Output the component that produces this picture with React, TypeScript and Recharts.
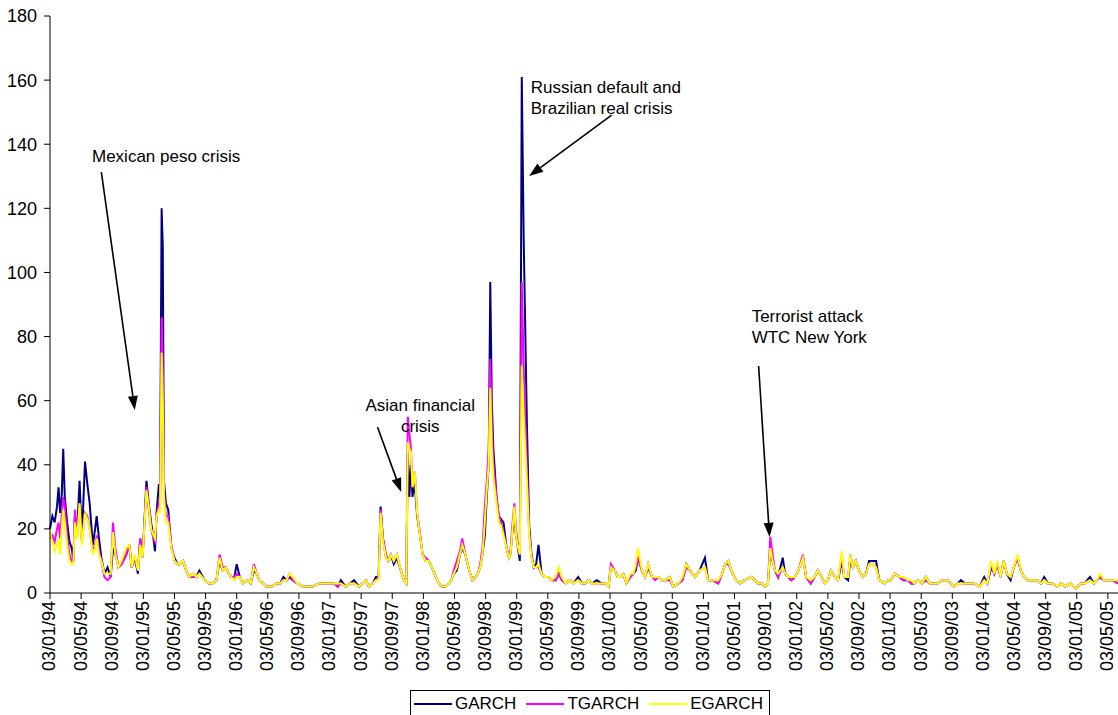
import React from "react";
import { LineChart, Line, XAxis, YAxis, Legend, ReferenceLine, ReferenceDot } from "recharts";

const FONT = "'Liberation Sans', Arial, sans-serif";

// x = months since 03/01/94
const months = [
  // 1994-95
  0, 0.3, 0.6, 0.9, 1.1, 1.3, 1.5, 1.7, 1.9, 2.2,
  2.5, 2.8, 3.0, 3.2, 3.5, 3.8, 4.1, 4.5, 4.8, 5.1,
  5.5, 5.8, 6.0, 6.3, 6.6, 7.0, 7.4, 7.8, 8.1, 8.4,
  8.8, 9.2, 9.8, 10.2, 10.5, 10.9, 11.3, 11.6, 11.9, 12.4,
  12.7, 13.0, 13.3, 13.5, 13.7, 14.0, 14.15, 14.35, 14.5, 14.65,
  14.9, 15.2, 15.6, 16.0, 16.4, 16.7, 17.1, 17.5, 17.9, 18.4,
  18.8, 19.2, 19.9, 20.4, 20.9, 21.4, 21.8, 22.2, 22.6, 23.0,
  23.3, 23.7,
  // 1996-97
  24.0, 24.4, 24.8, 25.4, 25.8, 26.2, 26.6, 26.9, 27.4, 27.8,
  28.5, 29.1, 29.6, 30.0, 30.4, 30.8, 31.2, 31.8, 32.5, 33.2,
  33.8, 34.6, 35.5, 36.5, 37.0, 37.4, 38.0, 38.6, 39.1, 39.7,
  40.2, 40.6, 41.0, 41.5, 41.9, 42.25, 42.5, 42.8, 43.2, 43.5,
  43.8, 44.2, 44.6, 45.1, 45.5, 45.8, 46.0, 46.2, 46.4, 46.6,
  46.9, 47.2, 47.5, 47.9,
  // 1998-99
  48.3, 48.7, 49.1, 49.6, 50.0, 50.4, 50.8, 51.3, 51.6, 51.9,
  52.3, 52.7, 53.0, 53.4, 53.7, 53.9, 54.3, 54.7, 55.0, 55.3,
  55.6, 55.9, 56.15, 56.4, 56.6, 56.8, 57.0, 57.4, 57.7, 58.0,
  58.3, 58.7, 59.0, 59.2, 59.4, 59.7, 59.9, 60.1, 60.4, 60.65,
  60.9, 61.3, 61.6, 61.9, 62.2, 62.5, 62.8, 63.2, 63.6, 64.0,
  64.5, 65.0, 65.4, 65.8, 66.3, 66.8, 67.3, 67.9, 68.4, 68.8,
  69.2, 69.7, 70.3, 70.9, 71.4, 71.8, 72.1,
  // 2000-01
  72.6, 73.0, 73.3, 73.7, 74.1, 74.6, 75.0, 75.3, 75.6, 76.1,
  76.5, 76.9, 77.4, 77.8, 78.2, 78.6, 79.1, 79.7, 80.1, 80.8,
  81.3, 81.8, 82.3, 82.9, 83.5, 84.2, 84.6, 85.2, 85.9, 86.4,
  86.8, 87.2, 87.6, 88.2, 88.7, 89.3, 90.2, 91.0, 91.5, 91.9,
  92.3, 92.6, 92.9, 93.2, 93.6, 94.2, 94.5, 94.9, 95.3, 95.8,
  96.2,
  // 2002-03
  96.8, 97.2, 97.8, 98.3, 98.7, 99.2, 99.6, 100.0, 100.4, 100.9,
  101.3, 101.8, 102.1, 102.6, 102.9, 103.2, 103.6, 104.0, 104.5, 104.9,
  105.3, 105.8, 106.2, 106.6, 107.3, 107.7, 108.1, 108.6, 109.2, 109.7,
  110.3, 110.7, 111.1, 111.6, 112.1, 112.6, 113.1, 113.6, 114.1, 114.7,
  115.4, 115.8, 116.2, 116.7, 117.1, 117.6, 118.2, 118.8, 119.5, 120.1,
  // 2004-05
  120.5, 121.0, 121.4, 121.8, 122.2, 122.6, 123.0, 123.5, 123.9, 124.4,
  124.8, 125.2, 125.7, 126.3, 126.9, 127.4, 127.8, 128.3, 128.8, 129.5,
  130.0, 130.5, 131.2, 131.6, 132.0, 132.5, 133.0, 133.7, 134.2, 134.6,
  135.0, 135.5, 136.1, 136.6, 137.3,
];

const garch = [
  20, 24, 22, 27, 33, 25, 30, 45, 30, 22,
  16, 14, 10, 24, 20, 35, 17, 41, 34, 28,
  15, 20, 24, 17, 11, 6, 8, 5, 14, 12,
  8, 9, 12, 15, 8, 11, 6, 17, 11, 35,
  28, 22, 17, 13, 25, 34, 32, 120, 108, 35,
  28, 26, 14, 11, 9, 9, 10, 7, 5, 6,
  5, 7, 4, 3, 3, 4, 10, 7, 8, 6,
  5, 5,
  9, 5, 3, 4, 3, 7, 6, 4, 3, 2,
  2, 3, 3, 5, 4, 5, 4, 3, 2, 2,
  2, 3, 3, 3, 2, 4, 2, 3, 4, 2,
  3, 4, 2, 3, 5, 5, 27, 17, 11, 10,
  12, 9, 11, 7, 4, 3, 44, 30, 40, 30,
  34, 24, 19, 12,
  10, 10, 8, 5, 3, 2, 2, 3, 4, 6,
  7, 12, 14, 12, 9, 7, 4, 5, 6, 8,
  12, 18, 30, 40, 97, 59, 45, 30, 24, 23,
  22, 14, 11, 12, 18, 24, 18, 15, 10, 161,
  110, 54, 21, 12, 8, 9, 15, 6, 5, 5,
  4, 4, 6, 4, 3, 4, 3, 5, 3, 3,
  4, 3, 4, 3, 3, 2, 8,
  7, 5, 5, 6, 3, 5, 6, 7, 11, 7,
  5, 8, 5, 5, 5, 4, 4, 5, 2, 3,
  4, 9, 7, 5, 7, 11, 4, 4, 3, 6,
  9, 10, 7, 4, 3, 4, 5, 3, 3, 2,
  3, 13, 10, 7, 5, 11, 6, 5, 4, 5,
  7,
  11, 5, 3, 5, 7, 5, 3, 4, 7, 5,
  4, 10, 5, 4, 11, 8, 10, 7, 5, 6,
  10, 10, 10, 4, 3, 4, 4, 6, 5, 4,
  4, 3, 3, 4, 3, 5, 3, 3, 3, 4,
  4, 3, 2, 3, 4, 3, 3, 3, 2, 5,
  3, 8, 6, 9, 5, 10, 6, 4, 8, 11,
  7, 5, 4, 4, 4, 3, 5, 3, 3, 2,
  3, 2, 3, 2, 1.5, 3, 3, 5, 3, 4,
  5, 4, 4, 4, 3,
];

const tgarch = [
  17, 18, 16, 20, 22, 17, 24, 30, 27, 18,
  12, 10, 10, 26, 18, 28, 16, 25, 24, 20,
  13, 15, 18, 13, 10, 5, 4, 5, 22, 14,
  8, 9, 12, 15, 8, 11, 7, 17, 11, 33,
  26, 20, 17, 16, 24, 28, 27, 86, 70, 32,
  24, 24, 15, 10, 9, 9, 10, 7, 5, 5,
  5, 6, 4, 3, 3, 4, 12, 8, 8, 6,
  5, 5,
  6, 5, 3, 4, 3, 9, 6, 4, 3, 2,
  2, 3, 3, 4, 4, 6, 4, 3, 2, 2,
  2, 3, 3, 3, 2, 3, 2, 3, 3, 2,
  3, 4, 2, 3, 4, 5, 26, 17, 12, 10,
  12, 10, 12, 7, 4, 3, 55, 50, 45, 33,
  38, 25, 20, 12,
  11, 10, 8, 5, 3, 2, 2, 3, 4, 7,
  10, 13, 17, 12, 9, 7, 4, 5, 6, 9,
  14, 27, 35, 45, 73, 52, 40, 30, 24, 22,
  19, 14, 12, 13, 20, 28, 20, 16, 12, 97,
  70, 40, 19, 11, 8, 8, 8, 6, 5, 5,
  4, 4, 6, 4, 3, 4, 3, 4, 3, 3,
  4, 3, 3, 3, 3, 2, 9,
  7, 5, 5, 6, 3, 5, 6, 8, 11, 7,
  5, 9, 5, 4, 5, 4, 4, 4, 2, 3,
  4, 8, 7, 5, 7, 8, 4, 4, 3, 6,
  9, 9, 7, 4, 3, 4, 5, 3, 3, 2,
  3, 17.5, 12, 7, 5, 8, 6, 5, 4, 5,
  7,
  12, 5, 3, 5, 7, 5, 3, 4, 7, 5,
  4, 12, 5, 5, 12, 8, 10, 7, 5, 6,
  9, 9, 8, 4, 3, 4, 4, 6, 5, 4,
  4, 3, 3, 4, 3, 4, 3, 3, 3, 4,
  4, 3, 2, 3, 3, 3, 3, 3, 2, 4,
  3, 9, 6, 9, 5, 10, 6, 5, 8, 11,
  7, 5, 4, 4, 4, 3, 4, 3, 3, 2,
  3, 2, 3, 2, 1.5, 3, 3, 4, 3, 4,
  5, 4, 4, 4, 3,
];

const egarch = [
  19, 16, 13, 15, 17, 12, 20, 26, 22, 15,
  10, 9, 9, 22, 17, 28, 15, 25, 23, 20,
  12, 14, 17, 12, 10, 6, 6, 6, 19, 12,
  8, 10, 14, 15, 8, 12, 7, 15, 11, 32,
  27, 20, 18, 17, 24, 26, 25, 75, 60, 30,
  22, 22, 14, 10, 9, 9, 10, 7, 5, 6,
  5, 6, 4, 3, 3, 4, 11, 7, 8, 6,
  5, 4,
  5, 5, 3, 4, 3, 8, 6, 4, 3, 2,
  2, 3, 3, 4, 4, 6, 5, 3, 2, 2,
  2, 3, 3, 3, 3, 3, 2, 3, 3, 2,
  3, 4, 2, 3, 4, 4, 25, 16, 11, 10,
  12, 10, 12, 7, 4, 3, 47, 45, 44, 33,
  38, 25, 19, 12,
  10, 10, 8, 5, 3, 2, 2, 3, 4, 6,
  8, 12, 15, 12, 9, 7, 4, 5, 6, 8,
  12, 22, 32, 40, 64, 45, 36, 28, 22, 21,
  18, 14, 11, 12, 18, 27, 18, 15, 12, 71,
  55, 35, 18, 11, 8, 8, 9, 6, 5, 5,
  4, 5, 8, 5, 3, 4, 3, 4, 3, 3,
  4, 3, 3, 3, 3, 2, 8,
  7, 5, 5, 6, 3, 6, 6, 9, 14, 7,
  5, 9, 5, 5, 5, 4, 4, 5, 2, 3,
  5, 9, 7, 5, 7, 8, 4, 4, 4, 6,
  9, 10, 7, 4, 3, 4, 5, 3, 3, 2,
  3, 14, 10, 7, 6, 8, 6, 5, 5, 5,
  7,
  11, 5, 4, 5, 7, 5, 3, 4, 7, 5,
  4, 13, 5, 5, 12, 8, 10, 7, 5, 6,
  9, 9, 8, 4, 3, 4, 4, 6, 5, 5,
  4, 4, 3, 4, 3, 5, 3, 3, 3, 4,
  4, 3, 2, 3, 3, 3, 3, 3, 2, 4,
  3, 10, 6, 10, 5, 10, 6, 5, 8, 12,
  7, 5, 4, 4, 4, 3, 4, 3, 3, 2,
  3, 2, 3, 2, 1.5, 3, 3, 4, 3, 4,
  6, 4, 4, 4, 4,
];

const tickMonths = [
  0, 4, 8, 12, 16, 20, 24, 28, 32, 36, 40, 44, 48, 52, 56, 60, 64, 68,
  72, 76, 80, 84, 88, 92, 96, 100, 104, 108, 112, 116, 120, 124, 128, 132, 136,
];
const tickLabels = [
  "03/01/94", "03/05/94", "03/09/94", "03/01/95", "03/05/95", "03/09/95",
  "03/01/96", "03/05/96", "03/09/96", "03/01/97", "03/05/97", "03/09/97",
  "03/01/98", "03/05/98", "03/09/98", "03/01/99", "03/05/99", "03/09/99",
  "03/01/00", "03/05/00", "03/09/00", "03/01/01", "03/05/01", "03/09/01",
  "03/01/02", "03/05/02", "03/09/02", "03/01/03", "03/05/03", "03/09/03",
  "03/01/04", "03/05/04", "03/09/04", "03/01/05", "03/05/05",
];
const yTicks = [0, 20, 40, 60, 80, 100, 120, 140, 160, 180];

const series = [
  { key: "garch", name: "GARCH", color: "#000080" },
  { key: "tgarch", name: "TGARCH", color: "#FF00FF" },
  { key: "egarch", name: "EGARCH", color: "#FFFF00" },
];

const notes = [
  { lines: ["Mexican peso crisis"], x: 5.4, y: 136.3, anchor: "start", from: [6.6, 131.3], to: [10.9, 57.1] },
  { lines: ["Asian financial", "crisis"], x: 47.6, y: 58.6, anchor: "middle", from: [42.1, 51.8], to: [45.15, 31.5] },
  { lines: ["Russian default and", "Brazilian real crisis"], x: 61.8, y: 157.8, anchor: "start", from: [72.2, 149.1], to: [61.6, 130.1] },
  { lines: ["Terrorist attack", "WTC New York"], x: 90.2, y: 86.4, anchor: "start", from: [91.1, 70.8], to: [92.5, 17.5] },
];

const data = months.map((m, i) => ({ m, garch: garch[i], tgarch: tgarch[i], egarch: egarch[i] }));

const XTick = (p: any) => {
  const idx = tickMonths.indexOf(p.payload.value);
  return (
    <g transform={`translate(${p.x},${p.y})`}>
      <text transform="rotate(-90)" textAnchor="end" dy="0.3em" fontSize={18} fontFamily={FONT} fill="#000">
        {tickLabels[idx]}
      </text>
    </g>
  );
};

const Arrow = (p: any) => {
  const { x1, y1, x2, y2 } = p;
  const ang = Math.atan2(y2 - y1, x2 - x1);
  const len = 14;
  const half = 5;
  const bx = x2 - len * Math.cos(ang);
  const by = y2 - len * Math.sin(ang);
  const px = -Math.sin(ang) * half;
  const py = Math.cos(ang) * half;
  return (
    <g>
      <line x1={x1} y1={y1} x2={bx} y2={by} stroke="#000" strokeWidth={1.6} />
      <polygon points={`${x2},${y2} ${bx + px},${by + py} ${bx - px},${by - py}`} fill="#000" />
    </g>
  );
};

const renderLegend = () => (
  <div
    style={{
      display: "flex",
      alignItems: "center",
      border: "1px solid #000",
      background: "#fff",
      padding: "3px 6px 8px 3px",
      fontFamily: FONT,
      fontSize: 17,
      color: "#000",
    }}
  >
    {series.map((s, i) => (
      <div key={s.key} style={{ display: "flex", alignItems: "center", marginLeft: i ? 10 : 0 }}>
        <div style={{ width: 38, height: 2, background: s.color, marginRight: 3 }} />
        <span>{s.name}</span>
      </div>
    ))}
  </div>
);

export default function App() {
  return (
    <div style={{ width: 1118, height: 715, background: "#fff", overflow: "hidden" }}>
      <style>{"body{margin:0;}"}</style>
      <LineChart width={1118} height={715} data={data} margin={{ top: 16, right: 0, bottom: 32, left: 0 }}>
        <XAxis
          dataKey="m"
          type="number"
          domain={[0, 137.3]}
          ticks={tickMonths}
          interval={0}
          height={90}
          tickSize={6}
          tickMargin={2}
          stroke="#000"
          tick={<XTick />}
        />
        <YAxis
          type="number"
          domain={[0, 180]}
          ticks={yTicks}
          interval={0}
          width={50}
          tickSize={6}
          tickMargin={7}
          stroke="#000"
          tick={{ fontSize: 18, fontFamily: FONT, fill: "#000" }}
        />
        {series.map((s) => (
          <Line
            key={s.key}
            dataKey={s.key}
            name={s.name}
            stroke={s.color}
            strokeWidth={2}
            dot={false}
            type="linear"
            isAnimationActive={false}
          />
        ))}
        {notes.map((n, i) => (
          <ReferenceLine
            key={`a${i}`}
            segment={[{ x: n.from[0], y: n.from[1] }, { x: n.to[0], y: n.to[1] }]}
            shape={<Arrow />}
          />
        ))}
        {notes.map((n, i) => (
          <ReferenceDot
            key={`t${i}`}
            x={n.x}
            y={n.y}
            r={0}
            shape={(p: any) => (
              <text x={p.cx} y={p.cy} textAnchor={n.anchor} fontSize={17} fontFamily={FONT} fill="#000">
                {n.lines.map((l, j) => (
                  <tspan key={j} x={p.cx} dy={j === 0 ? "0.35em" : 21}>
                    {l}
                  </tspan>
                ))}
              </text>
            )}
          />
        ))}
        <Legend
          verticalAlign="middle"
          align="center"
          layout="horizontal"
          content={renderLegend}
          wrapperStyle={{ left: 410, top: 690, width: "auto", height: "auto" }}
        />
      </LineChart>
    </div>
  );
}
